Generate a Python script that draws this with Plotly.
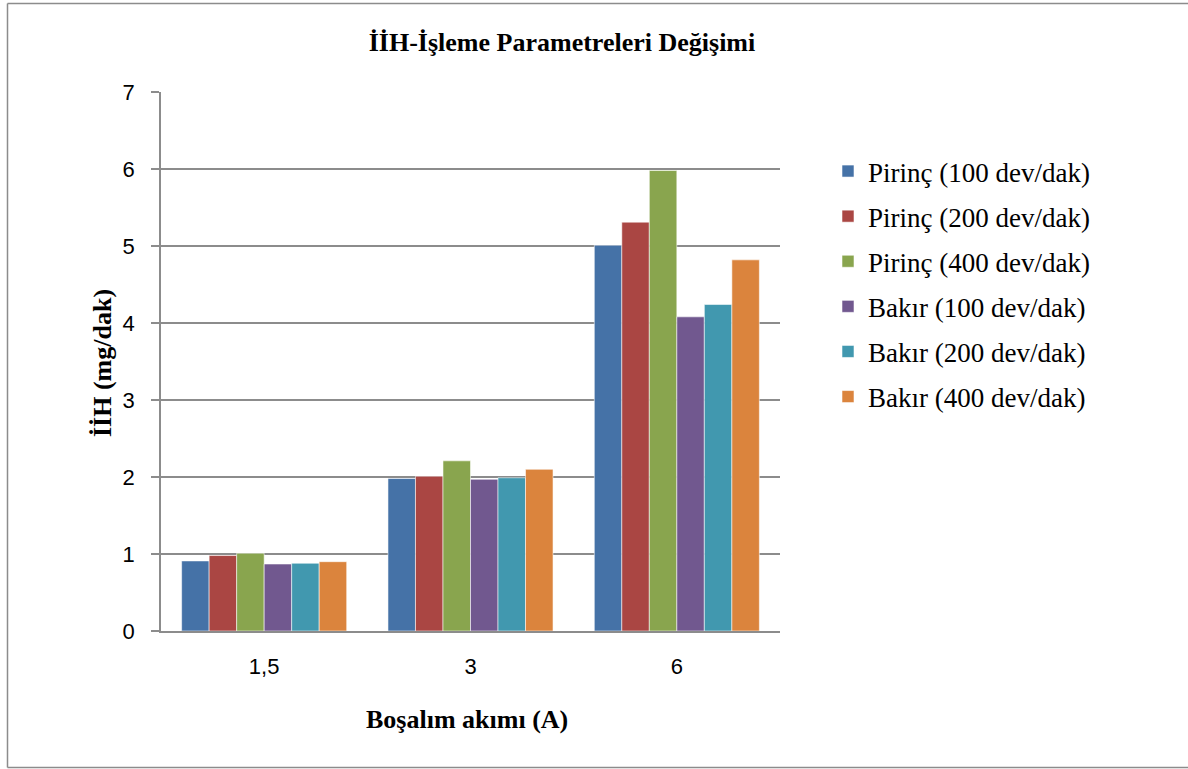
import plotly.graph_objects as go

categories = ["1,5", "3", "6"]
series_names = [
    "Pirinç (100 dev/dak)",
    "Pirinç (200 dev/dak)",
    "Pirinç (400 dev/dak)",
    "Bakır (100 dev/dak)",
    "Bakır (200 dev/dak)",
    "Bakır (400 dev/dak)",
]
pirinc_100 = [0.91, 1.98, 5.01]
pirinc_200 = [0.98, 2.01, 5.31]
pirinc_400 = [1.01, 2.21, 5.98]
bakir_100 = [0.87, 1.97, 4.08]
bakir_200 = [0.88, 1.99, 4.24]
bakir_400 = [0.90, 2.10, 4.82]
y_ticks = [0, 1, 2, 3, 4, 5, 6, 7]

series_values = [pirinc_100, pirinc_200, pirinc_400, bakir_100, bakir_200, bakir_400]
colors = ["#4572A7", "#AA4643", "#89A54E", "#71588F", "#4198AF", "#DB843D"]

W, H = 1188, 769
L, R, T, B = 161, 780, 92, 631
pw, ph = R - L, B - T

def px(x):
    return (x - L) / pw

def py(y):
    return (B - y) / ph

fig = go.Figure()
for i, (name, vals) in enumerate(zip(series_names, series_values)):
    fig.add_trace(go.Bar(
        x=categories, y=vals, name=name,
        marker=dict(color=colors[i], line=dict(color="rgba(255,255,255,0.55)", width=1)),
        legendgroup=f"g{i}",
    ))

serif = "Liberation Serif, Times New Roman, serif"
sans = "Liberation Sans, Arial, sans-serif"

border = dict(color="#8c8c8c", width=1.5)

fig.update_layout(
    width=W, height=H,
    margin=dict(l=L, r=W - R, t=T, b=H - B),
    paper_bgcolor="white", plot_bgcolor="white",
    barmode="group", bargap=0.2, bargroupgap=0,
    title=dict(text="<b>İİH-İşleme Parametreleri Değişimi</b>",
               x=562 / W, y=1 - 42 / H, xref="container", yref="container",
               xanchor="center", yanchor="middle",
               font=dict(family=serif, size=26, color="black")),
    showlegend=True,
    legend=dict(x=px(828), y=py(147), xanchor="left", yanchor="top",
                font=dict(family=serif, size=27, color="black"),
                tracegroupgap=7, bgcolor="rgba(0,0,0,0)"),
    xaxis=dict(showline=True, linecolor="#8c8c8c", linewidth=1.5,
               ticks="", showgrid=False,
               tickfont=dict(family=sans, size=22, color="black"),
               ticklabelstandoff=15),
    yaxis=dict(range=[0, 7], tickvals=y_ticks, showline=True, linecolor="#8c8c8c", linewidth=1.5,
               ticks="outside", ticklen=8, tickcolor="#8c8c8c", tickwidth=1.5,
               showgrid=True, gridcolor="#8c8c8c", gridwidth=1.5, zeroline=False,
               tickfont=dict(family=sans, size=22, color="black"),
               ticklabelstandoff=12),
    annotations=[
        dict(text="<b>Boşalım akımı (A)</b>", x=px(467), y=py(720), xref="paper", yref="paper",
             showarrow=False, xanchor="center", yanchor="middle",
             font=dict(family=serif, size=26, color="black")),
        dict(text="<b>İİH (mg/dak)</b>", x=px(102), y=py(363), xref="paper", yref="paper",
             showarrow=False, xanchor="center", yanchor="middle", textangle=-90,
             font=dict(family=serif, size=26, color="black")),
    ],
    shapes=[
        dict(type="line", xref="paper", yref="paper",
             x0=px(7.5), x1=px(1188), y0=py(3.5), y1=py(3.5), line=border, layer="below"),
        dict(type="line", xref="paper", yref="paper",
             x0=px(7.5), x1=px(7.5), y0=py(3.5), y1=py(767.5), line=border, layer="below"),
        dict(type="line", xref="paper", yref="paper",
             x0=px(7.5), x1=px(1188), y0=py(767.5), y1=py(767.5), line=border, layer="below"),
    ],
)

fig.write_html("out.html", config={"displayModeBar": False},
               post_script="document.body.style.margin='0px';")
